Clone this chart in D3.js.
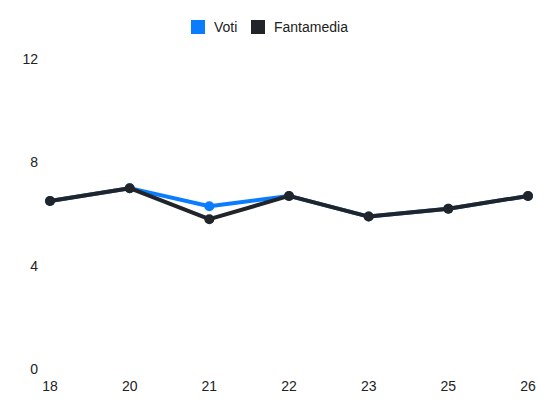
<!DOCTYPE html>
<html><head><meta charset="utf-8">
<script src="https://cdn.jsdelivr.net/npm/d3@7"></script>
<style>body{margin:0;background:#fff}svg{display:block;font-family:"Liberation Sans",Arial,sans-serif}</style>
</head><body><svg id="c" width="550" height="412"></svg>
<script>
const categories = ["18","20","21","22","23","25","26"];
const voti = [6.5, 7, 6.3, 6.7, 5.9, 6.2, 6.7];
const fantamedia = [6.5, 7, 5.8, 6.7, 5.9, 6.2, 6.7];
const yTicks = [0, 4, 8, 12];
const seriesNames = ["Voti", "Fantamedia"];
const colors = ["#0a7cff", "#212529"];

const svg = d3.select("#c");
const x = d3.scalePoint().domain(categories).range([50, 528]);
const y = d3.scaleLinear().domain([0, 12]).range([369, 59]);

// y labels
svg.append("g").selectAll("text").data(yTicks).join("text")
  .attr("x", 38).attr("y", d => y(d)).attr("dy", "0.35em")
  .attr("text-anchor", "end").attr("font-size", 14).attr("fill", "#222")
  .text(d => d);
// x labels
svg.append("g").selectAll("text").data(categories).join("text")
  .attr("x", d => x(d)).attr("y", 386).attr("dy", "0.35em")
  .attr("text-anchor", "middle").attr("font-size", 14).attr("fill", "#222")
  .text(d => d);

const data = [voti, fantamedia];
const line = d3.line().x((d, i) => x(categories[i])).y(d => y(d));
data.forEach((s, k) => {
  svg.append("path").datum(s).attr("d", line).attr("fill", "none")
    .attr("stroke", colors[k]).attr("stroke-width", 4).attr("stroke-linejoin", "round");
  svg.append("g").selectAll("circle").data(s).join("circle")
    .attr("cx", (d, i) => x(categories[i])).attr("cy", d => y(d)).attr("r", 5)
    .attr("fill", colors[k]);
});

// legend
const lg = svg.append("g");
const lx = [191, 251];
seriesNames.forEach((n, k) => {
  lg.append("rect").attr("x", lx[k]).attr("y", 20).attr("width", 14).attr("height", 14).attr("fill", colors[k]);
  lg.append("text").attr("x", lx[k] + 23).attr("y", 27).attr("dy", "0.35em")
    .attr("font-size", 14).attr("fill", "#222").text(n);
});
</script></body></html>
